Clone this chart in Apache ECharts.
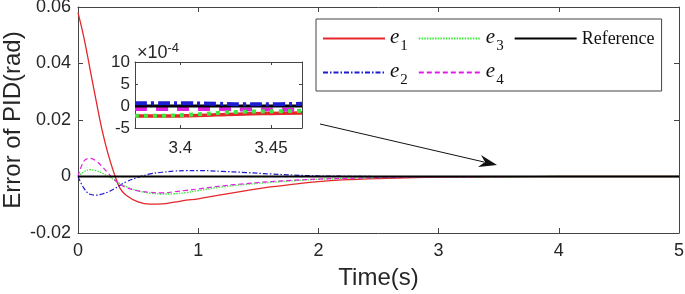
<!DOCTYPE html>
<html>
<head>
<meta charset="utf-8">
<script src="https://cdn.jsdelivr.net/npm/echarts@6/dist/echarts.min.js"></script>
<style>
  html, body { margin: 0; padding: 0; background: #fff; }
  #chart { width: 685px; height: 294px; }
</style>
</head>
<body>
<div id="chart"></div>
<script>
// main plot, time in seconds, error in rad
const tMain = [0, 0.05, 0.1, 0.15, 0.2, 0.25, 0.3, 0.35, 0.4, 0.5, 0.6, 0.7, 0.8, 0.9, 1.0,
  1.2, 1.4, 1.6, 1.8, 2.0, 2.2, 2.5, 2.8, 3.0, 3.3, 3.6, 4.0, 4.5, 5.0];
const e1 = [0.058, 0.049, 0.038, 0.027, 0.0165, 0.008, 0.0012, -0.0042, -0.0066, -0.0090, -0.0098, -0.0097, -0.0091, -0.0084, -0.0079,
  -0.0064, -0.0050, -0.0037, -0.0027, -0.0018, -0.0012, -0.0007, -0.0004, -0.0003, -0.0002, -0.0001, 0, 0, 0];
const e2 = [0, -0.0042, -0.0063, -0.0066, -0.0062, -0.0055, -0.0044, -0.0031, -0.0019, -0.0003, 0.0009, 0.0015, 0.0019, 0.0021, 0.0021,
  0.0018, 0.0014, 0.0009, 0.0005, 0.0002, 0.0001, 0, 0, 0, 0, 0, 0, 0, 0];
const e3 = [0, 0.0017, 0.0024, 0.0021, 0.0012, 0.0001, -0.0012, -0.0025, -0.0036, -0.0051, -0.0059, -0.0062, -0.0061, -0.0057, -0.0050,
  -0.0037, -0.0028, -0.0021, -0.0015, -0.0010, -0.0007, -0.0004, -0.0003, -0.0002, -0.0002, -0.0001, 0, 0, 0];
const e4 = [0, 0.0055, 0.0064, 0.0055, 0.0036, 0.0012, -0.0010, -0.0027, -0.0039, -0.0051, -0.0056, -0.0058, -0.0054, -0.0049, -0.0044,
  -0.0033, -0.0025, -0.0018, -0.0013, -0.0009, -0.0007, -0.0004, -0.0002, -0.0001, -0.0001, 0, 0, 0, 0];
const ref = [0, 5];
const refValues = [0, 0];

// zoomed inset, values in units of 1e-4 rad
const tInset = [3.375, 3.39, 3.405, 3.42, 3.435, 3.45, 3.467];
const e1Inset = [-2.3, -2.3, -2.2, -2.0, -1.8, -1.7, -1.6];
const e2Inset = [0.6, 0.6, 0.6, 0.5, 0.4, 0.4, 0.5];
const e3Inset = [-2.2, -2.2, -2.0, -1.6, -1.3, -1.2, -1.1];
const e4Inset = [-0.7, -0.7, -0.7, -0.7, -0.8, -0.8, -0.9];
const refInset = [0, 0, 0, 0, 0, 0, 0];

const xTicks = [0, 1, 2, 3, 4, 5];
const insetTicks = [3.4, 3.45];

const colors = { e1: '#e5262a', e2: '#1c1cd0', e3: '#3ee83e', e4: '#e020e0', ref: '#000000' };
const axisColor = '#444';
const textColor = '#262626';
const sans = 'Liberation Sans, Arial, sans-serif';
const serif = 'Liberation Serif, Times New Roman, serif';

function pairs(xs, ys) {
  return xs.map((x, i) => [x, ys[i]]);
}

function lineSeries(name, xs, ys, color, width, dash, axisIdx, z) {
  return {
    name: name,
    type: 'line',
    xAxisIndex: axisIdx,
    yAxisIndex: axisIdx,
    data: pairs(xs, ys),
    symbol: 'none',
    smooth: 0.4,
    z: z,
    lineStyle: { color: color, width: width, type: dash },
    itemStyle: { color: color },
    silent: true,
    animation: false
  };
}

const chart = echarts.init(document.getElementById('chart'));

const boxAxis = (extra) => Object.assign({
  axisLine: { show: true, onZero: false, lineStyle: { color: axisColor, width: 1 } },
  axisTick: { show: true, inside: true, length: 5, lineStyle: { color: axisColor } },
  splitLine: { show: false }
}, extra);

const option = {
  backgroundColor: '#fff',
  animation: false,
  grid: [
    { left: 78, right: 6, top: 7, bottom: 61, outerBoundsMode: 'none', containLabel: false },
    { left: 135, top: 62, width: 167, height: 66, show: true, backgroundColor: '#fff',
      borderWidth: 0, z: 5, outerBoundsMode: 'none', containLabel: false }
  ],
  xAxis: [
    boxAxis({
      type: 'value', gridIndex: 0, min: 0, max: 5, interval: 1,
      name: 'Time(s)', nameLocation: 'middle', nameGap: 33, nameMoveOverlap: false,
      nameTextStyle: { fontFamily: sans, fontSize: 24, color: textColor },
      axisLabel: { fontFamily: sans, fontSize: 18, color: textColor, margin: 9,
        customValues: xTicks }
    }),
    boxAxis({
      type: 'value', gridIndex: 1, min: 3.375, max: 3.467, z: 6,
      axisTick: { show: true, inside: true, length: 3, lineStyle: { color: axisColor }, customValues: insetTicks },
      axisLabel: { fontFamily: sans, fontSize: 17, color: textColor, margin: 12,
        customValues: insetTicks, formatter: (v) => String(v) }
    }),
    boxAxis({
      type: 'value', gridIndex: 0, position: 'top', min: 0, max: 5, interval: 1,
      axisLabel: { show: false }
    }),
    boxAxis({
      type: 'value', gridIndex: 1, position: 'top', min: 3.375, max: 3.467, z: 6,
      axisTick: { show: true, inside: true, length: 3, lineStyle: { color: axisColor }, customValues: insetTicks },
      axisLabel: { show: false }
    })
  ],
  yAxis: [
    boxAxis({
      type: 'value', gridIndex: 0, min: -0.02, max: 0.06, interval: 0.02,
      name: 'Error of PID(rad)', nameLocation: 'middle', nameGap: 53, nameMoveOverlap: false,
      nameTextStyle: { fontFamily: sans, fontSize: 24, color: textColor },
      axisLabel: { fontFamily: sans, fontSize: 18, color: textColor, margin: 7 }
    }),
    boxAxis({
      type: 'value', gridIndex: 1, min: -5, max: 10, interval: 5, z: 6,
      axisTick: { show: true, inside: true, length: 3, lineStyle: { color: axisColor } },
      axisLabel: { fontFamily: sans, fontSize: 17, color: textColor, margin: 5 }
    }),
    boxAxis({
      type: 'value', gridIndex: 0, position: 'right', min: -0.02, max: 0.06, interval: 0.02,
      axisLabel: { show: false }
    }),
    boxAxis({
      type: 'value', gridIndex: 1, position: 'right', min: -5, max: 10, interval: 5, z: 6,
      axisTick: { show: true, inside: true, length: 3, lineStyle: { color: axisColor } },
      axisLabel: { show: false }
    })
  ],
  legend: {
    left: 316, top: 19, width: 346,
    padding: [4, 7, 3, 6],
    itemGap: 3,
    itemWidth: 62, itemHeight: 14,
    backgroundColor: '#fff',
    borderColor: axisColor, borderWidth: 1, borderRadius: 0,
    z: 10,
    selectedMode: false,
    itemStyle: { opacity: 0 },
    data: ['e1', 'e3', 'Reference', 'e2', 'e4'],
    formatter: (name) => name === 'Reference' ? '{r|Reference}' : '{i|e}{s|' + name.slice(1) + '}',
    textStyle: {
      color: '#111',
      rich: {
        i: { fontFamily: serif, fontStyle: 'italic', fontSize: 21, lineHeight: 20, verticalAlign: 'top', padding: [4, 0, 0, 0] },
        s: { fontFamily: serif, fontSize: 15, lineHeight: 31, verticalAlign: 'bottom', padding: [0, 7, 0, 1] },
        r: { fontFamily: serif, fontSize: 18, lineHeight: 31, padding: [2, 0, 0, 0] }
      }
    }
  },
  series: [
    lineSeries('e1', tMain, e1, colors.e1, 1.3, 'solid', 0, 2),
    lineSeries('e2', tMain, e2, colors.e2, 1.2, [5, 2, 1.5, 2], 0, 2),
    lineSeries('e3', tMain, e3, colors.e3, 1.3, [1.5, 1.2], 0, 2),
    lineSeries('e4', tMain, e4, colors.e4, 1.2, [5, 3], 0, 2),
    lineSeries('Reference', ref, refValues, colors.ref, 2, 'solid', 0, 3),
    lineSeries('e1 inset', tInset, e1Inset, colors.e1, 3.5, 'solid', 1, 7),
    lineSeries('e3 inset', tInset, e3Inset, colors.e3, 4, [4, 5], 1, 8),
    lineSeries('e4 inset', tInset, e4Inset, colors.e4, 4, [12, 9], 1, 7),
    lineSeries('ref inset', tInset, refInset, colors.ref, 3, 'solid', 1, 7),
    lineSeries('e2 inset', tInset, e2Inset, colors.e2, 4, [12, 4, 3, 4], 1, 8)
  ],
  graphic: [
    {
      type: 'text', left: 137, top: 36, z: 20,
      style: {
        text: '{a|×10}{b|-4}',
        rich: {
          a: { fontFamily: sans, fontSize: 18, fill: textColor, lineHeight: 20, verticalAlign: 'bottom', padding: [8, 0, 0, 0] },
          b: { fontFamily: sans, fontSize: 13, fill: textColor, lineHeight: 14, verticalAlign: 'top' }
        }
      }
    },
    {
      type: 'line', z: 20, silent: true,
      shape: { x1: 320, y1: 124, x2: 484, y2: 162 },
      style: { stroke: '#111', lineWidth: 1 }
    },
    {
      type: 'polygon', z: 20, silent: true,
      shape: { points: [[497, 165], [478, 167], [485, 162], [481, 155]] },
      style: { fill: '#111' }
    }
  ]
};

chart.setOption(option);
</script>
</body>
</html>
